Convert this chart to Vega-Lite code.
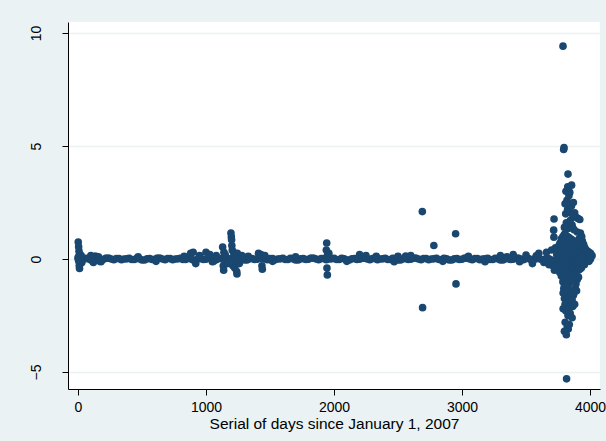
{
"$schema": "https://vega.github.io/schema/vega-lite/v6.json",
"width": 532, "height": 367,
"autosize": {"type": "none"},
"padding": {"left": 68, "top": 22, "right": 6, "bottom": 52},
"background": "#EAF2F3",
"config": {"view": {"fill": "white", "stroke": null}, "font": "Liberation Sans"},
"data": {"values": [
{"d":0,"v":0.03},{"d":40,"v":-0.02},{"d":80,"v":0.01},{"d":120,"v":-0.04},{"d":160,"v":0.02},{"d":200,"v":-0.01},{"d":240,"v":0.04},{"d":280,"v":-0.03},{"d":320,"v":0.02},{"d":360,"v":0.0},
{"d":400,"v":0.03},{"d":440,"v":-0.02},{"d":480,"v":0.01},{"d":520,"v":-0.04},{"d":560,"v":0.02},{"d":600,"v":-0.01},{"d":640,"v":0.04},{"d":680,"v":-0.03},{"d":720,"v":0.02},{"d":760,"v":0.0},
{"d":800,"v":0.03},{"d":840,"v":-0.02},{"d":880,"v":0.01},{"d":920,"v":-0.04},{"d":960,"v":0.02},{"d":1000,"v":-0.01},{"d":1040,"v":0.04},{"d":1080,"v":-0.03},{"d":1120,"v":0.02},{"d":1160,"v":0.0},
{"d":1200,"v":0.03},{"d":1240,"v":-0.02},{"d":1280,"v":0.01},{"d":1320,"v":-0.04},{"d":1360,"v":0.02},{"d":1400,"v":-0.01},{"d":1440,"v":0.04},{"d":1480,"v":-0.03},{"d":1520,"v":0.02},{"d":1560,"v":0.0},
{"d":1600,"v":0.03},{"d":1640,"v":-0.02},{"d":1680,"v":0.01},{"d":1720,"v":-0.04},{"d":1760,"v":0.02},{"d":1800,"v":-0.01},{"d":1840,"v":0.04},{"d":1880,"v":-0.03},{"d":1920,"v":0.02},{"d":1960,"v":0.0},
{"d":2000,"v":0.03},{"d":2040,"v":-0.02},{"d":2080,"v":0.01},{"d":2120,"v":-0.04},{"d":2160,"v":0.02},{"d":2200,"v":-0.01},{"d":2240,"v":0.04},{"d":2280,"v":-0.03},{"d":2320,"v":0.02},{"d":2360,"v":0.0},
{"d":2400,"v":0.03},{"d":2440,"v":-0.02},{"d":2480,"v":0.01},{"d":2520,"v":-0.04},{"d":2560,"v":0.02},{"d":2600,"v":-0.01},{"d":2640,"v":0.04},{"d":2680,"v":-0.03},{"d":2720,"v":0.02},{"d":2760,"v":0.0},
{"d":2800,"v":0.03},{"d":2840,"v":-0.02},{"d":2880,"v":0.01},{"d":2920,"v":-0.04},{"d":2960,"v":0.02},{"d":3000,"v":-0.01},{"d":3040,"v":0.04},{"d":3080,"v":-0.03},{"d":3120,"v":0.02},{"d":3160,"v":0.0},
{"d":3200,"v":0.03},{"d":3240,"v":-0.02},{"d":3280,"v":0.01},{"d":3320,"v":-0.04},{"d":3360,"v":0.02},{"d":3400,"v":-0.01},{"d":3440,"v":0.04},{"d":3480,"v":-0.03},{"d":3520,"v":0.02},{"d":3560,"v":0.0},
{"d":3600,"v":0.03},{"d":3640,"v":-0.02},{"d":3680,"v":0.01},
{"d":20,"v":-0.02},{"d":60,"v":0.03},{"d":100,"v":-0.04},{"d":140,"v":0.01},{"d":180,"v":-0.02},{"d":220,"v":0.04},{"d":260,"v":0.0},{"d":300,"v":0.02},{"d":340,"v":-0.03},{"d":380,"v":0.01},
{"d":420,"v":-0.02},{"d":460,"v":0.03},{"d":500,"v":-0.04},{"d":540,"v":0.01},{"d":580,"v":-0.02},{"d":620,"v":0.04},{"d":660,"v":0.0},{"d":700,"v":0.02},{"d":740,"v":-0.03},{"d":780,"v":0.01},
{"d":820,"v":-0.02},{"d":860,"v":0.03},{"d":900,"v":-0.04},{"d":940,"v":0.01},{"d":980,"v":-0.02},{"d":1020,"v":0.04},{"d":1060,"v":0.0},{"d":1100,"v":0.02},{"d":1140,"v":-0.03},{"d":1180,"v":0.01},
{"d":1220,"v":-0.02},{"d":1260,"v":0.03},{"d":1300,"v":-0.04},{"d":1340,"v":0.01},{"d":1380,"v":-0.02},{"d":1420,"v":0.04},{"d":1460,"v":0.0},{"d":1500,"v":0.02},{"d":1540,"v":-0.03},{"d":1580,"v":0.01},
{"d":1620,"v":-0.02},{"d":1660,"v":0.03},{"d":1700,"v":-0.04},{"d":1740,"v":0.01},{"d":1780,"v":-0.02},{"d":1820,"v":0.04},{"d":1860,"v":0.0},{"d":1900,"v":0.02},{"d":1940,"v":-0.03},{"d":1980,"v":0.01},
{"d":2020,"v":-0.02},{"d":2060,"v":0.03},{"d":2100,"v":-0.04},{"d":2140,"v":0.01},{"d":2180,"v":-0.02},{"d":2220,"v":0.04},{"d":2260,"v":0.0},{"d":2300,"v":0.02},{"d":2340,"v":-0.03},{"d":2380,"v":0.01},
{"d":2420,"v":-0.02},{"d":2460,"v":0.03},{"d":2500,"v":-0.04},{"d":2540,"v":0.01},{"d":2580,"v":-0.02},{"d":2620,"v":0.04},{"d":2660,"v":0.0},{"d":2700,"v":0.02},{"d":2740,"v":-0.03},{"d":2780,"v":0.01},
{"d":2820,"v":-0.02},{"d":2860,"v":0.03},{"d":2900,"v":-0.04},{"d":2940,"v":0.01},{"d":2980,"v":-0.02},{"d":3020,"v":0.04},{"d":3060,"v":0.0},{"d":3100,"v":0.02},{"d":3140,"v":-0.03},{"d":3180,"v":0.01},
{"d":3220,"v":-0.02},{"d":3260,"v":0.03},{"d":3300,"v":-0.04},{"d":3340,"v":0.01},{"d":3380,"v":-0.02},{"d":3420,"v":0.04},{"d":3460,"v":0.0},{"d":3500,"v":0.02},{"d":3540,"v":-0.03},{"d":3580,"v":0.01},
{"d":3620,"v":-0.02},{"d":3660,"v":0.03},{"d":3700,"v":-0.04},
{"d":130,"v":0.12},{"d":170,"v":-0.1},{"d":470,"v":0.1},{"d":610,"v":-0.1},{"d":830,"v":0.12},{"d":1050,"v":-0.12},{"d":1330,"v":0.12},{"d":1520,"v":-0.1},{"d":1700,"v":0.1},{"d":2100,"v":-0.1},{"d":2330,"v":0.12},{"d":2470,"v":-0.12},{"d":2560,"v":0.13},{"d":2850,"v":-0.1},{"d":3050,"v":0.12},{"d":3180,"v":-0.12},{"d":3350,"v":0.1},{"d":3450,"v":-0.12},{"d":3580,"v":0.14},
{"d":2,"v":0.75},{"d":5,"v":0.55},{"d":8,"v":0.35},{"d":10,"v":-0.3},{"d":12,"v":-0.42},{"d":15,"v":0.2},{"d":20,"v":-0.2},{"d":25,"v":0.15},{"d":30,"v":-0.15},{"d":3,"v":0.1},{"d":6,"v":-0.1},
{"d":100,"v":0.15},{"d":120,"v":-0.15},{"d":140,"v":0.12},{"d":160,"v":0.1},{"d":180,"v":-0.12},
{"d":880,"v":0.25},{"d":900,"v":0.3},{"d":920,"v":-0.2},{"d":950,"v":0.15},
{"d":1000,"v":0.3},{"d":1030,"v":0.2},{"d":1060,"v":-0.1},{"d":1080,"v":0.15},
{"d":1130,"v":0.53},{"d":1140,"v":0.3},{"d":1135,"v":-0.3},{"d":1138,"v":-0.49},{"d":1150,"v":0.2},{"d":1170,"v":-0.2},
{"d":1195,"v":1.15},{"d":1198,"v":0.98},{"d":1200,"v":0.85},{"d":1202,"v":0.6},{"d":1205,"v":0.4},{"d":1210,"v":-0.3},{"d":1215,"v":0.3},{"d":1225,"v":-0.4},{"d":1240,"v":-0.55},{"d":1242,"v":-0.66},{"d":1245,"v":0.25},{"d":1260,"v":-0.2},{"d":1280,"v":0.15},
{"d":1410,"v":0.25},{"d":1430,"v":0.2},{"d":1437,"v":-0.3},{"d":1440,"v":-0.45},{"d":1460,"v":0.15},
{"d":1940,"v":0.4},{"d":1943,"v":0.71},{"d":1945,"v":-0.4},{"d":1948,"v":-0.7},{"d":1950,"v":0.2},{"d":1960,"v":0.25},
{"d":2200,"v":0.2},{"d":2250,"v":0.15},{"d":2500,"v":0.12},{"d":2600,"v":0.15},
{"d":2690,"v":2.1},{"d":2692,"v":-2.15},{"d":2780,"v":0.6},{"d":2950,"v":1.12},{"d":2953,"v":-1.1},
{"d":3300,"v":0.15},{"d":3400,"v":0.2},{"d":3500,"v":0.18},{"d":3550,"v":-0.2},{"d":3600,"v":0.25},{"d":3640,"v":-0.15},{"d":3660,"v":0.3},{"d":3680,"v":-0.25},
{"d":3719,"v":1.77},{"d":3716,"v":1.28},{"d":3718,"v":0.97},{"d":3722,"v":-0.49},{"d":3700,"v":0.4},{"d":3710,"v":-0.3},{"d":3730,"v":0.5},
{"d":3740,"v":0.45},{"d":3740,"v":0.2},{"d":3740,"v":-0.05},{"d":3740,"v":-0.25},{"d":3740,"v":-0.45},
{"d":3752,"v":0.55},{"d":3752,"v":0.3},{"d":3752,"v":0.05},{"d":3752,"v":-0.2},{"d":3752,"v":-0.4},
{"d":3764,"v":0.7},{"d":3764,"v":0.4},{"d":3764,"v":0.15},{"d":3764,"v":-0.1},{"d":3764,"v":-0.35},{"d":3764,"v":-0.6},
{"d":3776,"v":0.9},{"d":3776,"v":0.6},{"d":3776,"v":0.3},{"d":3776,"v":0.05},{"d":3776,"v":-0.2},{"d":3776,"v":-0.45},{"d":3776,"v":-0.75},
{"d":3788,"v":1.0},{"d":3788,"v":0.7},{"d":3788,"v":0.4},{"d":3788,"v":0.1},{"d":3788,"v":-0.15},{"d":3788,"v":-0.4},{"d":3788,"v":-0.7},{"d":3788,"v":-1.0},
{"d":3800,"v":1.1},{"d":3800,"v":0.8},{"d":3800,"v":0.5},{"d":3800,"v":0.2},{"d":3800,"v":-0.05},{"d":3800,"v":-0.3},{"d":3800,"v":-0.6},{"d":3800,"v":-0.9},{"d":3800,"v":-1.15},
{"d":3812,"v":1.05},{"d":3812,"v":0.75},{"d":3812,"v":0.45},{"d":3812,"v":0.15},{"d":3812,"v":-0.1},{"d":3812,"v":-0.35},{"d":3812,"v":-0.65},{"d":3812,"v":-0.95},{"d":3812,"v":-1.2},
{"d":3824,"v":1.0},{"d":3824,"v":0.7},{"d":3824,"v":0.4},{"d":3824,"v":0.1},{"d":3824,"v":-0.15},{"d":3824,"v":-0.45},{"d":3824,"v":-0.75},{"d":3824,"v":-1.05},
{"d":3836,"v":0.95},{"d":3836,"v":0.65},{"d":3836,"v":0.35},{"d":3836,"v":0.05},{"d":3836,"v":-0.25},{"d":3836,"v":-0.55},{"d":3836,"v":-0.85},{"d":3836,"v":-1.1},
{"d":3848,"v":0.9},{"d":3848,"v":0.6},{"d":3848,"v":0.3},{"d":3848,"v":0.0},{"d":3848,"v":-0.3},{"d":3848,"v":-0.6},{"d":3848,"v":-0.9},
{"d":3860,"v":0.85},{"d":3860,"v":0.55},{"d":3860,"v":0.25},{"d":3860,"v":-0.05},{"d":3860,"v":-0.35},{"d":3860,"v":-0.65},{"d":3860,"v":-0.9},
{"d":3872,"v":0.8},{"d":3872,"v":0.5},{"d":3872,"v":0.2},{"d":3872,"v":-0.1},{"d":3872,"v":-0.4},{"d":3872,"v":-0.7},
{"d":3884,"v":0.75},{"d":3884,"v":0.45},{"d":3884,"v":0.15},{"d":3884,"v":-0.15},{"d":3884,"v":-0.45},{"d":3884,"v":-0.7},
{"d":3896,"v":0.7},{"d":3896,"v":0.4},{"d":3896,"v":0.1},{"d":3896,"v":-0.2},{"d":3896,"v":-0.5},
{"d":3908,"v":0.65},{"d":3908,"v":0.35},{"d":3908,"v":0.05},{"d":3908,"v":-0.25},{"d":3908,"v":-0.5},
{"d":3920,"v":0.6},{"d":3920,"v":0.3},{"d":3920,"v":0.0},{"d":3920,"v":-0.3},{"d":3920,"v":-0.45},
{"d":3932,"v":0.55},{"d":3932,"v":0.3},{"d":3932,"v":0.05},{"d":3932,"v":-0.2},{"d":3932,"v":-0.4},
{"d":3944,"v":0.5},{"d":3944,"v":0.25},{"d":3944,"v":0.0},{"d":3944,"v":-0.25},
{"d":3956,"v":0.45},{"d":3956,"v":0.2},{"d":3956,"v":-0.05},{"d":3956,"v":-0.25},
{"d":3968,"v":0.4},{"d":3968,"v":0.15},{"d":3968,"v":-0.1},
{"d":3980,"v":0.35},{"d":3980,"v":0.1},{"d":3980,"v":-0.1},
{"d":3992,"v":0.3},{"d":3992,"v":0.05},{"d":3992,"v":-0.1},
{"d":4004,"v":0.25},{"d":4004,"v":0.0},{"d":4016,"v":0.15},
{"d":3940,"v":0.8},{"d":3950,"v":0.65},{"d":3960,"v":0.5},{"d":3935,"v":1.0},{"d":3925,"v":1.15},{"d":3900,"v":1.2},{"d":3915,"v":0.9},
{"d":3800,"v":1.4},{"d":3815,"v":1.6},{"d":3830,"v":1.35},{"d":3845,"v":1.7},{"d":3860,"v":1.5},{"d":3875,"v":1.3},{"d":3890,"v":1.85},{"d":3905,"v":1.8},{"d":3920,"v":1.75},{"d":3810,"v":2.0},{"d":3825,"v":2.2},{"d":3840,"v":2.1},{"d":3855,"v":2.35},{"d":3870,"v":2.5},{"d":3820,"v":2.6},{"d":3835,"v":2.8},{"d":3812,"v":3.0},{"d":3826,"v":3.2},{"d":3842,"v":2.95},{"d":3856,"v":3.27},{"d":3828,"v":3.76},{"d":3794,"v":4.85},{"d":3797,"v":4.93},{"d":3789,"v":9.42},{"d":3805,"v":2.45},{"d":3880,"v":2.05},{"d":3865,"v":1.95},
{"d":3795,"v":-1.3},{"d":3810,"v":-1.45},{"d":3825,"v":-1.35},{"d":3840,"v":-1.55},{"d":3855,"v":-1.4},{"d":3870,"v":-1.6},{"d":3885,"v":-1.3},{"d":3800,"v":-1.75},{"d":3820,"v":-1.9},{"d":3835,"v":-2.05},{"d":3850,"v":-1.85},{"d":3865,"v":-2.1},{"d":3880,"v":-2.0},{"d":3812,"v":-2.3},{"d":3828,"v":-2.5},{"d":3845,"v":-2.4},{"d":3860,"v":-2.6},{"d":3806,"v":-2.8},{"d":3822,"v":-3.0},{"d":3838,"v":-2.9},{"d":3800,"v":-3.2},{"d":3815,"v":-3.35},{"d":3830,"v":-3.1},{"d":3817,"v":-5.3},
{"d":3790,"v":-1.5},{"d":3805,"v":-2.0},{"d":3830,"v":-1.7},{"d":3845,"v":-2.1},{"d":3860,"v":-1.8},{"d":3875,"v":-1.5},{"d":3890,"v":-1.1},{"d":3900,"v":-0.9},{"d":3910,"v":-0.8},{"d":3895,"v":-1.4},{"d":3790,"v":-2.2}
]},
"mark": {"type": "circle", "size": 58, "opacity": 1, "color": "#1a476f"},
"encoding": {
  "x": {"field": "d", "type": "quantitative",
    "scale": {"domain": [-78, 4078], "nice": false, "zero": false},
    "axis": {"values": [0, 1000, 2000, 3000, 4000], "format": "d", "title": "Serial of days since January 1, 2007", "grid": false,
      "domainColor": "black", "tickColor": "black", "tickSize": 6, "labelFontSize": 14, "labelColor": "black",
      "titleFontSize": 15.5, "titleFontWeight": "normal", "titleColor": "black", "labelPadding": 5, "titlePadding": 2, "labelFlush": false}},
  "y": {"field": "v", "type": "quantitative",
    "scale": {"domain": [-5.75, 10.49], "nice": false, "zero": false},
    "axis": {"values": [-5, 0, 5, 10], "format": "d", "title": null, "grid": true, "gridColor": "#EAF2F3", "gridWidth": 1.5,
      "domainColor": "black", "tickColor": "black", "tickSize": 6, "labelAngle": -90, "labelAlign": "center", "labelBaseline": "bottom",
      "labelPadding": 19, "labelFontSize": 14, "labelColor": "black"}}
}
}
